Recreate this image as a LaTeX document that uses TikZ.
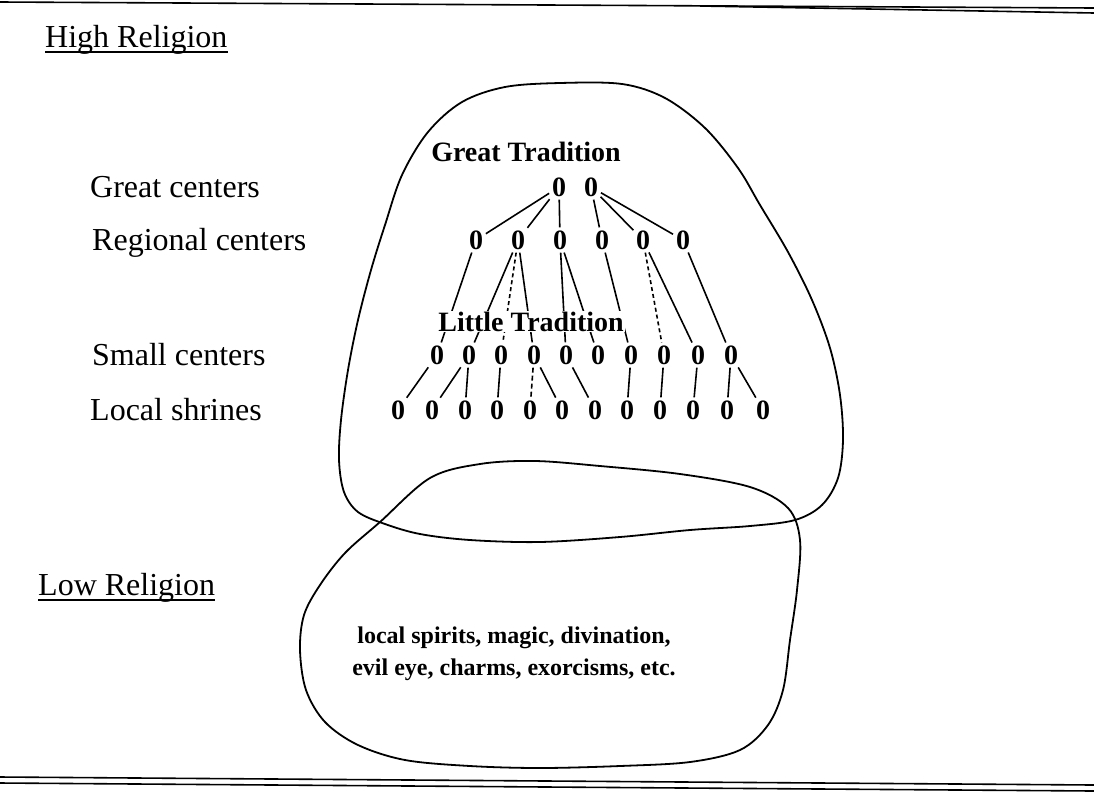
\documentclass[tikz,border=0pt]{standalone}
\usepackage{fontspec}
\setmainfont{Liberation Serif}
\begin{document}
\begin{tikzpicture}[x=1pt,y=-1pt,
  lab/.style={anchor=base west, inner sep=0pt, font=\fontsize{32}{36}\selectfont},
  head/.style={anchor=base, inner sep=1pt, font=\fontsize{28}{32}\selectfont\bfseries},
  zero/.style={font=\fontsize{28}{30}\selectfont\bfseries, inner sep=1pt},
  tie/.style={line width=1.6pt, shorten <=2pt, shorten >=2pt},
  blob/.style={line width=1.8pt},
  rule/.style={line width=1.6pt},
  ul/.style={line width=1.4pt}]
\useasboundingbox (0,0) rectangle (1094,804);

% page rules
\draw[rule] (0,2) -- (1094,8);
\draw[rule] (700,6) -- (1094,13);
\draw[rule] (0,777) -- (1094,785);
\draw[rule] (0,783) -- (1094,791);

% left labels
\node[lab] (hr) at (45,47) {High Religion};
\draw[ul] ([yshift=-5pt]hr.base west) -- ([yshift=-5pt]hr.base east);
\node[lab] (gc) at (90,197) {Great centers};
\node[lab] (rc) at (92,250) {Regional centers};
\node[lab] (sc) at (92,365) {Small centers};
\node[lab] (ls) at (90,420) {Local shrines};
\node[lab] (lr) at (38,595) {Low Religion};
\draw[ul] ([yshift=-5pt]lr.base west) -- ([yshift=-5pt]lr.base east);

% upper blob
\draw[blob] plot[smooth cycle, tension=0.55] coordinates {
 (462,102) (505,87) (560,83) (622,84) (665,98) (705,128) (738,168)
 (760,205) (788,252) (812,300) (830,348) (840,395) (843,440) (838,478)
 (822,505) (795,520) (750,526) (690,530) (620,537) (540,542) (470,540)
 (420,534) (385,524) (358,512) (344,492) (339,460) (341,420) (348,370)
 (358,320) (371,270) (385,225) (402,175) (428,132)};

% lower blob
\draw[blob] plot[smooth cycle, tension=0.55] coordinates {
 (430,478) (480,464) (535,461) (600,466) (680,474) (750,487) (788,508)
 (800,540) (797,590) (790,640) (783,690) (768,725) (740,750) (690,762)
 (620,766) (540,768) (470,766) (405,760) (358,745) (325,722) (306,690)
 (300,650) (304,615) (320,585) (345,553) (380,522)};

% zeros
\node[zero] (g1) at (559,187) {0};
\node[zero] (g2) at (591,187) {0};
\foreach \i/\x in {1/476,2/518,3/560,4/602,5/643,6/683}
  \node[zero] (r\i) at (\x,240) {0};
\foreach \i/\x in {1/437,2/469,3/501,4/534,5/566,6/598,7/631,8/664,9/698,10/731}
  \node[zero] (s\i) at (\x,355) {0};
\foreach \i/\x in {1/398,2/432,3/465,4/497,5/530,6/562,7/595,8/627,9/660,10/693,11/727,12/763}
  \node[zero] (l\i) at (\x,410) {0};

% great -> regional
\foreach \a/\b in {g1/r1,g1/r2,g1/r3,g2/r4,g2/r5,g2/r6}
  \draw[tie] (\a) -- (\b);
% regional -> small
\foreach \a/\b in {r1/s1,r2/s2,r2/s4,r3/s5,r3/s6,r4/s7,r5/s9,r6/s10}
  \draw[tie] (\a) -- (\b);
\draw[tie, dash pattern=on 4pt off 3pt] (r2) -- (s3);
\draw[tie, dash pattern=on 4pt off 3pt] (r5) -- (s8);
% small -> local
\foreach \a/\b in {s1/l1,s2/l2,s2/l3,s3/l4,s4/l6,s5/l7,s7/l8,s8/l9,s9/l10,s10/l11,s10/l12}
  \draw[tie] (\a) -- (\b);
\draw[tie, dash pattern=on 5pt off 3pt] (s4) -- (l5);

% headings
\node[head] (gt) at (526,161) {Great Tradition};
\node[head, fill=white] (lt) at (531,331) {Little Tradition};

% low religion content
\node[align=center, inner sep=0pt, font=\fontsize{24}{32}\selectfont\bfseries] (lowtext) at (514,654)
  {local spirits, magic, divination,\\evil eye, charms, exorcisms, etc.};
\end{tikzpicture}
\end{document}
